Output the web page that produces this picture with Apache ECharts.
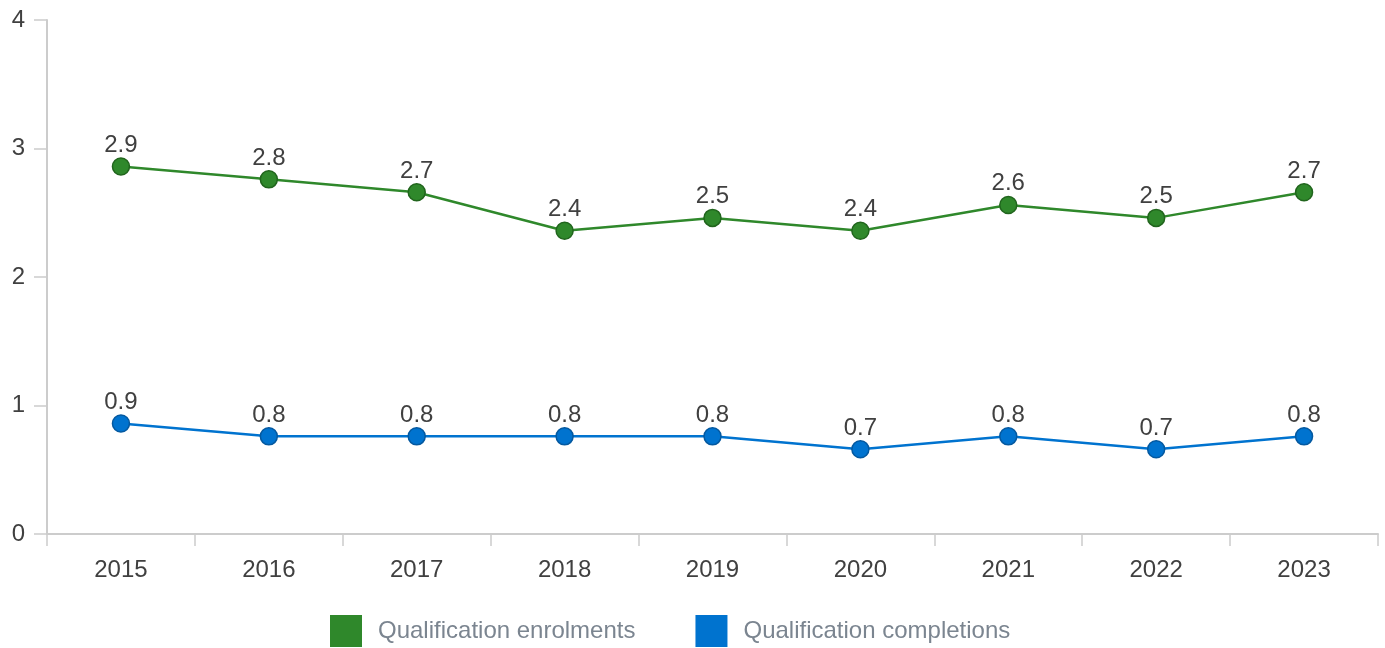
<!DOCTYPE html>
<html>
<head>
<meta charset="utf-8">
<script src="https://cdn.jsdelivr.net/npm/echarts@6/dist/echarts.min.js"></script>
<style>
  html, body { margin: 0; padding: 0; background: #fff; }
  #chart { width: 1385px; height: 648px; }
</style>
</head>
<body>
<div id="chart"></div>
<script>
const years = ['2015', '2016', '2017', '2018', '2019', '2020', '2021', '2022', '2023'];
const enrolments = [2.86, 2.76, 2.66, 2.36, 2.46, 2.36, 2.56, 2.46, 2.66];
const completions = [0.86, 0.76, 0.76, 0.76, 0.76, 0.66, 0.76, 0.66, 0.76];

const FONT = 'Liberation Sans, Arial, sans-serif';
const chart = echarts.init(document.getElementById('chart'), null, { renderer: 'canvas' });

function lineSeries(name, data, color, border) {
  return {
    name: name,
    type: 'line',
    data: data,
    symbol: 'circle',
    symbolSize: 17,
    itemStyle: { color: color, borderColor: border, borderWidth: 1.5 },
    lineStyle: { color: color, width: 2.5 },
    label: {
      show: true,
      position: 'top',
      distance: 0,
      color: '#404040',
      fontSize: 24,
      fontFamily: FONT,
      formatter: (p) => p.value.toFixed(1)
    },
    emphasis: { disabled: true },
    animation: false
  };
}

chart.setOption({
  animation: false,
  grid: { left: 47, right: 7, top: 20, bottom: 114 },
  legend: {
    top: 615,
    left: 330,
    padding: 0,
    itemWidth: 32,
    itemHeight: 32,
    itemGap: 60,
    icon: 'rect',
    itemStyle: { borderWidth: 0 },
    textStyle: { color: '#7b8590', fontSize: 24, fontFamily: FONT, padding: [0, 0, 0, 11] },
    data: ['Qualification enrolments', 'Qualification completions']
  },
  xAxis: {
    type: 'category',
    data: years,
    axisLine: { lineStyle: { color: '#cccccc', width: 2 } },
    axisTick: { show: true, length: 12, lineStyle: { color: '#cccccc', width: 1.5 } },
    axisLabel: { color: '#404040', fontSize: 24, margin: 24, fontFamily: FONT }
  },
  yAxis: {
    type: 'value',
    min: 0,
    max: 4,
    interval: 1,
    splitLine: { show: false },
    axisLine: { show: true, lineStyle: { color: '#cccccc', width: 2 } },
    axisTick: { show: true, length: 13, lineStyle: { color: '#cccccc', width: 1.5 } },
    axisLabel: { color: '#404040', fontSize: 24, margin: 22, fontFamily: FONT }
  },
  series: [
    lineSeries('Qualification enrolments', enrolments, '#2f882b', '#21651d'),
    lineSeries('Qualification completions', completions, '#0073cf', '#0459a0')
  ]
});
</script>
</body>
</html>
